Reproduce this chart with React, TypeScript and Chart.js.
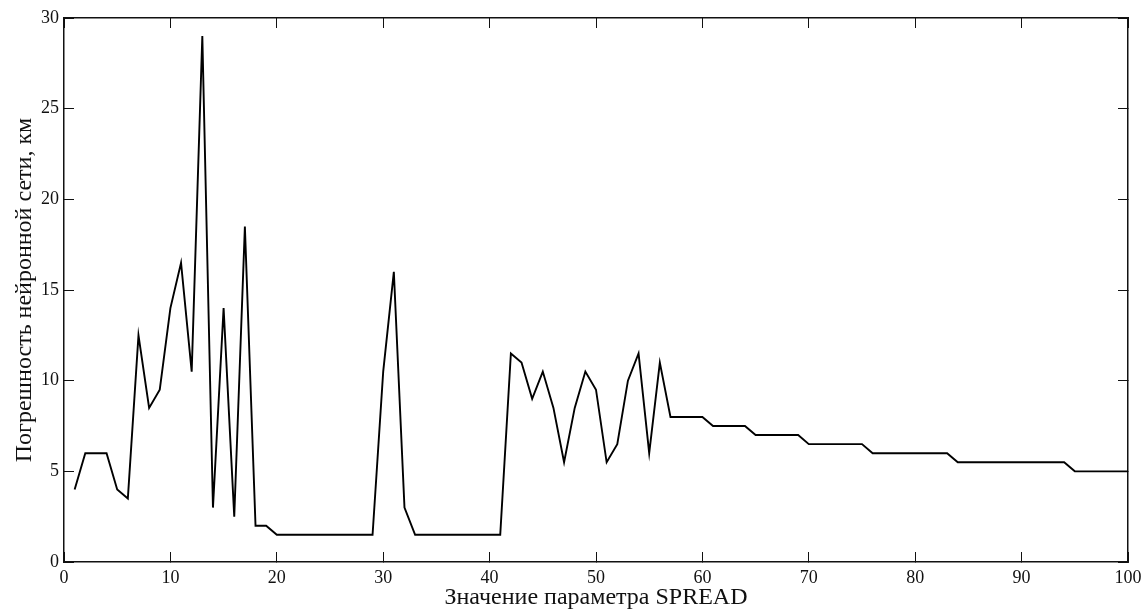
import React, { useEffect, useRef } from "react";
import { Chart, registerables } from "chart.js";

Chart.register(...registerables);

// SPREAD parameter values (x) and the resulting network error in km (y)
const spreadValues: number[] = [
  1, 2, 3, 4, 5, 6, 7, 8, 9, 10,
  11, 12, 13, 14, 15, 16, 17, 18, 19, 20,
  21, 22, 23, 24, 25, 26, 27, 28, 29, 30,
  31, 32, 33, 34, 35, 36, 37, 38, 39, 40,
  41, 42, 43, 44, 45, 46, 47, 48, 49, 50,
  51, 52, 53, 54, 55, 56, 57, 58, 59, 60,
  61, 62, 63, 64, 65, 66, 67, 68, 69, 70,
  71, 72, 73, 74, 75, 76, 77, 78, 79, 80,
  81, 82, 83, 84, 85, 86, 87, 88, 89, 90,
  91, 92, 93, 94, 95, 96, 97, 98, 99, 100,
];

const errorKm: number[] = [
  4, 6, 6, 6, 4, 3.5, 12.5, 8.5, 9.5, 14,
  16.5, 10.5, 29, 3, 14, 2.5, 18.5, 2, 2, 1.5,
  1.5, 1.5, 1.5, 1.5, 1.5, 1.5, 1.5, 1.5, 1.5, 10.5,
  16, 3, 1.5, 1.5, 1.5, 1.5, 1.5, 1.5, 1.5, 1.5,
  1.5, 11.5, 11, 9, 10.5, 8.5, 5.5, 8.5, 10.5, 9.5,
  5.5, 6.5, 10, 11.5, 6, 11, 8, 8, 8, 8,
  7.5, 7.5, 7.5, 7.5, 7, 7, 7, 7, 7, 6.5,
  6.5, 6.5, 6.5, 6.5, 6.5, 6, 6, 6, 6, 6,
  6, 6, 6, 5.5, 5.5, 5.5, 5.5, 5.5, 5.5, 5.5,
  5.5, 5.5, 5.5, 5.5, 5, 5, 5, 5, 5, 5,
];

// Axis ranges and tick spacing
const xRange = [0, 100];
const xStep = 10;
const yRange = [0, 30];
const yStep = 5;

const xTitle = "Значение параметра SPREAD";
const yTitle = "Погрешность нейронной сети, км";

const FONT = "'Liberation Serif', 'Times New Roman', serif";
const INK = "#111";

// fixes a scale's thickness and drops the extra room reserved for edge labels
const fixSize = (size: number) => (scale: any) => {
  if (scale.isHorizontal()) scale.height = size;
  else scale.width = size;
  scale.paddingLeft = 0;
  scale.paddingRight = 0;
  scale.paddingTop = 0;
  scale.paddingBottom = 0;
};

export default function App() {
  const canvasRef = useRef<HTMLCanvasElement | null>(null);

  useEffect(() => {
    const canvas = canvasRef.current;
    if (!canvas) return;

    const points = spreadValues.map((x, i) => ({ x, y: errorKm[i] }));

    // inward tick marks on every side of the frame
    const frameGrid = {
      drawOnChartArea: false,
      drawTicks: true,
      tickLength: -10,
      tickWidth: 1,
      color: INK,
    };
    const frameBorder = { display: true, color: INK, width: 1.5 };

    const chart = new Chart(canvas, {
      type: "line",
      data: {
        datasets: [
          {
            data: points,
            borderColor: "#000",
            borderWidth: 1.9,
            pointRadius: 0,
            tension: 0,
            fill: false,
          },
        ],
      },
      options: {
        responsive: false,
        animation: false,
        layout: { padding: { top: 18, right: 17, left: 0, bottom: 0 } },
        plugins: {
          legend: { display: false },
          tooltip: { enabled: false },
        },
        scales: {
          x: {
            type: "linear",
            position: "bottom",
            min: xRange[0],
            max: xRange[1],
            ticks: {
              stepSize: xStep,
              padding: 15,
              maxRotation: 0,
              color: INK,
              font: { family: FONT, size: 18 },
            },
            grid: frameGrid,
            border: frameBorder,
            title: {
              display: true,
              text: xTitle,
              color: INK,
              font: { family: FONT, size: 24, lineHeight: 1 },
              padding: { top: 0, bottom: 0 },
            },
            afterFit: fixSize(48),
          },
          xTop: {
            type: "linear",
            position: "top",
            min: xRange[0],
            max: xRange[1],
            ticks: { stepSize: xStep, display: false },
            grid: frameGrid,
            border: frameBorder,
            afterFit: fixSize(0),
          },
          y: {
            type: "linear",
            position: "left",
            min: yRange[0],
            max: yRange[1],
            ticks: {
              stepSize: yStep,
              padding: 15,
              color: INK,
              font: { family: FONT, size: 18 },
            },
            grid: frameGrid,
            border: frameBorder,
            title: {
              display: true,
              text: yTitle,
              color: INK,
              font: { family: FONT, size: 24, lineHeight: 1.2 },
              padding: { top: 10, bottom: 0 },
            },
            afterFit: fixSize(64),
          },
          yRight: {
            type: "linear",
            position: "right",
            min: yRange[0],
            max: yRange[1],
            ticks: { stepSize: yStep, display: false },
            grid: frameGrid,
            border: frameBorder,
            afterFit: fixSize(0),
          },
        },
      },
    } as any);

    return () => {
      chart.destroy();
    };
  }, []);

  return (
    <div style={{ position: "absolute", left: 0, top: 0, width: 1145, height: 610, background: "#fff" }}>
      <canvas ref={canvasRef} width={1145} height={610} />
    </div>
  );
}
